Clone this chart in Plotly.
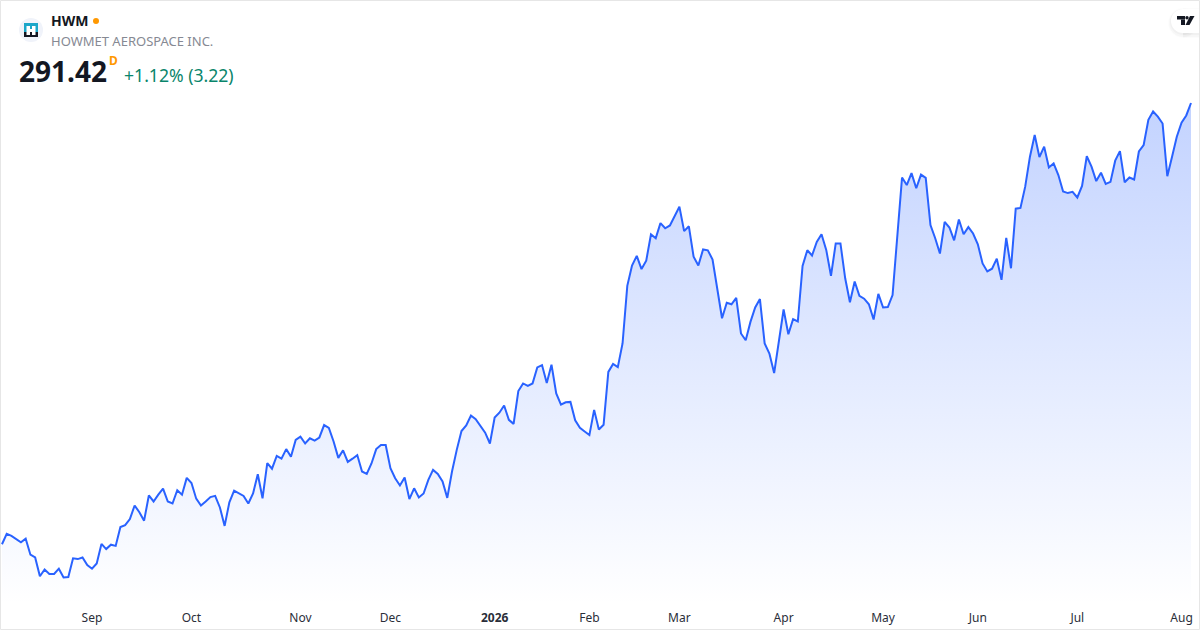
import plotly.graph_objects as go

# Trading-session index and closing prices
sessions = list(range(252))
closes = [
181.1,183.7,183.2,182.3,181.6,182.5,178.5,177.8,173.1,174.8,
173.7,173.7,175.0,172.8,172.9,177.6,177.4,177.8,175.9,175.0,
176.3,181.2,179.9,181.0,180.7,185.4,185.9,187.4,190.8,189.1,
187.0,193.3,191.8,193.5,195.0,191.8,191.3,194.6,193.5,197.7,
196.4,192.5,190.8,191.8,192.9,193.2,190.3,185.7,191.6,194.5,
193.8,193.2,191.3,193.8,198.6,192.6,201.4,200.0,203.2,202.5,
204.9,203.0,207.2,208.0,206.3,207.6,207.0,207.8,210.9,210.2,
206.8,202.7,204.6,201.7,202.5,203.4,199.3,198.7,201.3,204.9,
205.9,205.9,200.1,197.6,195.8,197.8,192.4,195.1,192.8,193.8,
197.2,199.7,198.7,196.8,192.7,199.3,204.7,209.4,210.8,213.3,
212.4,210.7,209.0,206.3,212.8,214.0,215.8,212.2,211.2,219.4,
221.3,220.7,221.3,225.3,225.9,221.4,226.0,218.8,216.0,216.6,
216.7,212.1,210.2,209.3,208.4,214.7,209.8,211.0,224.2,226.2,
225.4,231.3,245.7,250.8,253.2,249.9,252.0,258.6,257.6,261.4,
260.1,260.8,263.0,265.5,259.4,260.6,253.0,250.8,254.8,254.6,
252.3,244.7,237.6,241.5,241.1,242.7,233.8,232.1,236.7,240.3,
242.4,231.3,228.8,223.9,231.8,239.8,233.6,237.4,236.8,250.7,
254.6,253.3,256.7,258.6,254.7,248.2,256.3,256.3,247.6,241.6,
246.8,243.2,242.5,241.1,237.3,243.7,240.3,240.4,243.4,258.0,
272.8,270.9,273.9,270.1,273.5,272.7,260.9,257.6,253.8,261.7,
260.3,257.1,262.3,258.6,260.4,258.8,256.1,251.3,249.3,250.0,
252.5,247.2,257.7,250.1,265.0,265.2,270.5,278.0,283.4,277.9,
280.5,275.3,276.3,273.4,269.3,268.9,269.2,267.8,270.7,278.1,
275.5,271.9,274.0,271.2,271.7,277.0,279.4,271.6,272.8,272.3,
279.3,280.9,287.2,289.3,288.0,286.3,273.1,278.0,283.0,286.5,
288.3,291.42,
]
tick_sessions = [19, 40, 63, 82, 104, 124, 143, 165, 186, 206, 227, 249]
tick_labels = ["Sep", "Oct", "Nov", "Dec", "<b>2026</b>", "Feb", "Mar", "Apr", "May", "Jun", "Jul", "Aug"]

symbol = "HWM"
company = "HOWMET AEROSPACE INC."
last_price = "291.42"
change_text = "+1.12% (3.22)"

W, H = 1200, 630
PX = lambda x: x / W
PY = lambda y: 1 - y / H
FONT = "Noto Sans"

def path(points):
    return "M" + "L".join(f"{PX(x):.5f},{PY(y):.5f}" for x, y in points) + "Z"

def poly(points, color):
    return dict(type="path", xref="paper", yref="paper", path=path(points),
                fillcolor=color, line=dict(width=0), layer="above")

def rect(x0, y0, x1, y1, color):
    return poly([(x0, y0), (x1, y0), (x1, y1), (x0, y1)], color)

def circle(cx, cy, r, color):
    return dict(type="circle", xref="paper", yref="paper",
                x0=PX(cx - r), x1=PX(cx + r), y0=PY(cy + r), y1=PY(cy - r),
                fillcolor=color, line=dict(width=0), layer="above")

def label(x, y, text, size, color, bold=False, anchor="left"):
    return dict(xref="paper", yref="paper", x=PX(x), y=PY(y), text=f"<b>{text}</b>" if bold else text,
                showarrow=False, xanchor=anchor, yanchor="middle",
                font=dict(family=FONT, size=size, color=color),
                borderpad=0, borderwidth=0)

fig = go.Figure(go.Scatter(
    x=sessions, y=closes, mode="lines",
    line=dict(color="#2962FF", width=2),
    fill="tozeroy",
    fillcolor="rgba(41,98,255,0.1)",
    fillgradient=dict(type="vertical", start=291.42, stop=166.0,
                      colorscale=[[0, "rgba(41,98,255,0.28)"], [1, "rgba(41,98,255,0)"]]),
    hoverinfo="skip",
))

shapes = [
    # logo
    circle(31, 30, 12, "#F0F3FA"),
    rect(24, 23, 38, 32, "#1AA6C9"),
    rect(24, 32, 38, 37, "#131722"),
    rect(26.5, 26, 30, 35, "#FFFFFF"),
    rect(32, 26, 35.5, 35, "#FFFFFF"),
    rect(30, 29, 32, 32, "#FFFFFF"),
    # status dot
    circle(96, 21, 3, "#FF9800"),
    # TradingView badge with soft shadow
    circle(1183, 23, 15, "rgba(0,0,0,0.012)"),
    rect(1183, 8, 1200, 38, "rgba(0,0,0,0.012)"),
    circle(1183, 23, 14, "rgba(0,0,0,0.018)"),
    rect(1183, 9, 1200, 37, "rgba(0,0,0,0.018)"),
    circle(1183, 22, 13, "rgba(0,0,0,0.025)"),
    rect(1183, 9, 1200, 35, "rgba(0,0,0,0.025)"),
    circle(1183, 21, 12, "#FFFFFF"),
    rect(1183, 9, 1200, 33, "#FFFFFF"),
    rect(1177, 16, 1185, 19.5, "#131722"),
    rect(1181, 19.5, 1185, 25, "#131722"),
    circle(1187, 17.7, 1.7, "#131722"),
    poly([(1190, 16), (1194.5, 16), (1189.5, 25), (1185.5, 25)], "#131722"),
    # frame
    dict(type="rect", xref="paper", yref="paper", x0=PX(0.5), x1=PX(1199.5), y0=PY(629.5), y1=PY(0.5),
         line=dict(color="#E6E6E6", width=1), fillcolor="rgba(0,0,0,0)", layer="above"),
]

annotations = [
    label(51, 21, symbol, 14, "#131722", bold=True),
    label(51, 41, company, 13, "#868993"),
    label(19, 71, last_price, 28, "#131722", bold=True),
    label(109, 61, "D", 12, "#FF9800", bold=True),
    label(124, 74.5, change_text, 17.6, "#0A856B"),
]

fig.update_layout(
    width=W, height=H,
    margin=dict(l=0, r=0, t=0, b=0),
    paper_bgcolor="#FFFFFF", plot_bgcolor="rgba(0,0,0,0)",
    showlegend=False,
    shapes=shapes, annotations=annotations,
    xaxis=dict(domain=[0, 1], range=[-0.42, 252.9], showgrid=False, zeroline=False, showline=False,
               tickmode="array", tickvals=tick_sessions, ticktext=tick_labels, ticks="", automargin=False,
               ticklabelstandoff=5,
               tickfont=dict(family=FONT, size=12, color="#2A2E39")),
    yaxis=dict(domain=[26 / H, 1], range=[166.17, 317.17], showgrid=False, zeroline=False, showline=False,
               showticklabels=False, ticks="", automargin=False),
)

fig.write_html("out.html", config=dict(displayModeBar=False),
               post_script="document.body.style.margin='0';")
